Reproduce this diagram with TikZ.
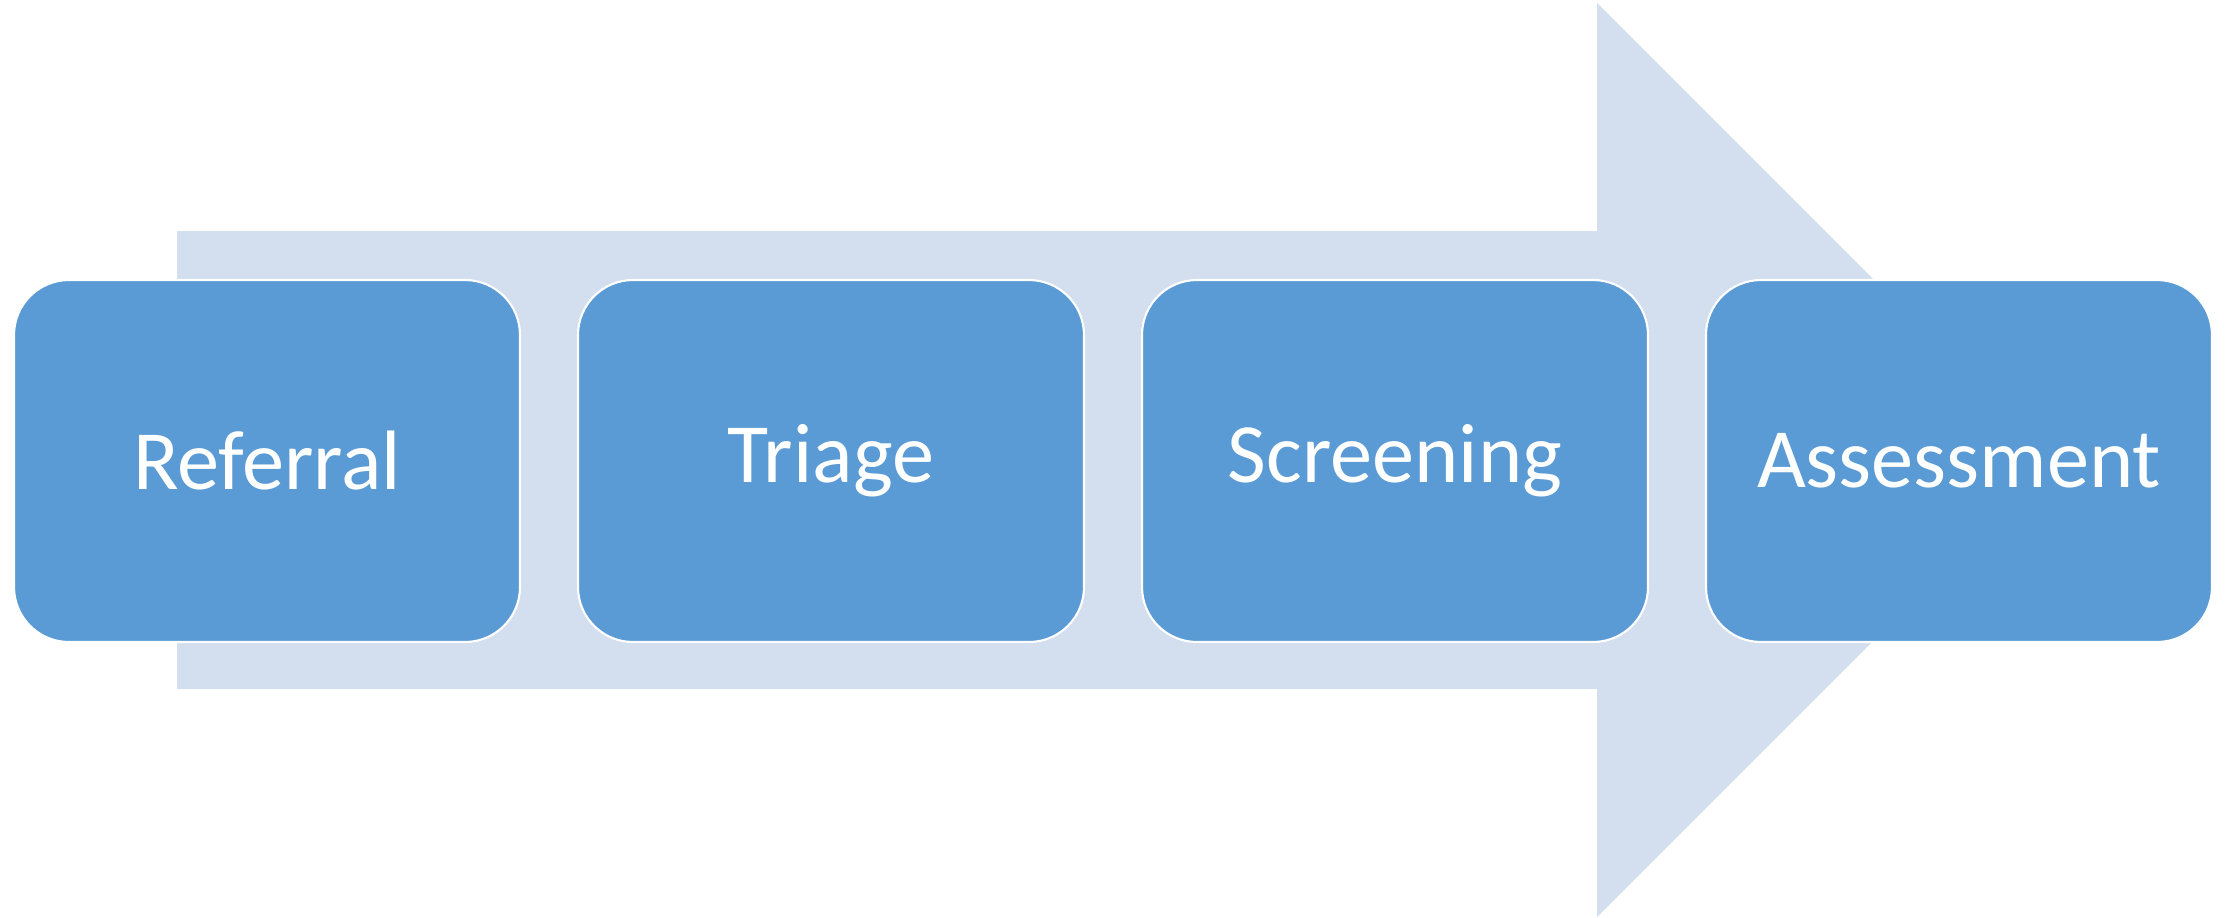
\documentclass[tikz,border=0pt]{standalone}
\usepackage{fontspec}
\setmainfont{Carlito}
\usepackage{tikz}
\usetikzlibrary{positioning}
\definecolor{boxblue}{HTML}{5B9BD5}
\definecolor{arrowpale}{HTML}{D3DEEF}
\newcommand{\stagefont}{\fontsize{24pt}{29pt}\selectfont}

\begin{document}
\begin{tikzpicture}[
  stagebox/.style={draw=white, line width=0.6pt, fill=boxblue, rounded corners=0.55cm,
    minimum width=5.06cm, minimum height=3.62cm, inner sep=0pt, outer sep=0pt,
    text=white, font=\stagefont},
  bigarrow/.style={fill=arrowpale, draw=none}
]
  \useasboundingbox (0,0) rectangle (22.36,-9.17);

  % --- background arrow ---
  \fill[bigarrow] (1.77,-2.31) -- (15.97,-2.31) -- (15.97,-0.03) -- (20.54,-4.60)
    -- (15.97,-9.17) -- (15.97,-6.89) -- (1.77,-6.89) -- cycle;

  % --- stages ---
  \node[stagebox] (referral) at (2.67,-4.61) {Referral};
  \node[stagebox, right=0.58cm of referral] (triage) {Triage};
  \node[stagebox, right=0.58cm of triage] (screening) {Screening};
  \node[stagebox, right=0.58cm of screening] (assessment) {Assessment};
\end{tikzpicture}
\end{document}
